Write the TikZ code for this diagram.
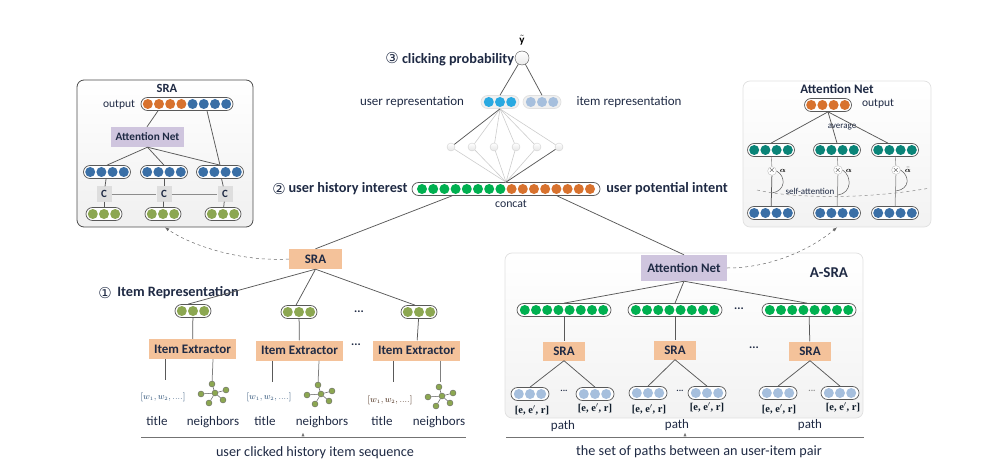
\documentclass[tikz,border=0pt]{standalone}
\usepackage{amsmath}
\usepackage{fontspec}
\usetikzlibrary{shapes.geometric}
\setmainfont{Carlito}
\newfontfamily\circfont{DejaVu Sans}
\newfontfamily\seriffont{Liberation Serif}
\definecolor{dotO}{HTML}{D8722E}
\definecolor{dotB}{HTML}{3A6FA6}
\definecolor{dotG}{HTML}{00B050}
\definecolor{dotL}{HTML}{8CA751}
\definecolor{dotT}{HTML}{0A8478}
\definecolor{dotS}{HTML}{29A9E1}
\definecolor{dotP}{HTML}{A6BFDD}
\definecolor{boxO}{HTML}{F4C29A}
\definecolor{boxV}{HTML}{CFC5DE}
\definecolor{labT}{HTML}{1F2A44}
\tikzset{
  pill/.style={draw=black!65, fill=white, rounded corners=6.5pt, minimum height=13pt, inner sep=0pt, line width=0.7pt},
  palepill/.style={pill, draw=black!12, fill=black!6},
  dotcell/.style={circle, inner sep=0pt, minimum size=10pt},
  orangebox/.style={fill=boxO, font=\bfseries\fontsize{13}{15}\selectfont, text=labT, inner sep=0pt},
  violetbox/.style={fill=boxV, font=\bfseries\fontsize{13}{15}\selectfont, text=labT, inner sep=0pt},
  lab/.style={font=\fontsize{13}{15}\selectfont, text=labT, inner sep=0pt},
  caplab/.style={font=\fontsize{14.2}{16}\selectfont, text=labT, inner sep=0pt},
  boldlab/.style={font=\bfseries\fontsize{14.3}{16}\selectfont, text=labT, inner sep=0pt},
  numlab/.style={font=\circfont\fontsize{15}{16}\selectfont, text=labT, inner sep=0pt},
  edgeline/.style={draw=black!65, line width=0.75pt},
  thinline/.style={draw=black!20, line width=0.6pt},
  baseline rule/.style={draw=black!55, line width=1pt},
  seqtip/.style={draw=none, fill=black!55, isosceles triangle, shape border rotate=90, minimum size=2pt, inner sep=0.8pt},
  hubdot/.style={circle, draw=black!60, fill=dotL, inner sep=0pt, minimum size=6pt, line width=0.4pt},
  hidden/.style={circle, draw=black!18, top color=white, bottom color=black!10, inner sep=0pt, minimum size=8pt},
  timescirc/.style={circle, draw=black!25, fill=white, inner sep=0pt, minimum size=8pt, font=\fontsize{8}{8}\selectfont},
  cbox/.style={fill=black!13, minimum width=15pt, minimum height=15pt, inner sep=0pt, font=\bfseries\fontsize{11}{12}\selectfont, text=labT},
  pathlab/.style={font=\seriffont\bfseries\fontsize{10.5}{12}\selectfont, text=black!75!dotB, inner sep=0pt},
  titlelab/.style={font=\fontsize{9.5}{10}\selectfont, text=dotB!70!black, inner sep=0pt},
  dots/.style={font=\bfseries\fontsize{12}{12}\selectfont, text=labT, inner sep=0pt},
  container/.style={rounded corners=7pt, top color=white, bottom color=black!5, draw=black!12, line width=0.7pt}
}
% row of dots inside a pill: name, x, y, width, count, colours
\newcommand{\dotrow}[7][pill]{
  \node[#1, minimum width=#5pt] (#2) at (#3,#4) {};
  \foreach \col [count=\k] in {#7}
    \node[dotcell, fill=\col] (#2d\k) at ({#3+(\k-(#6+1)/2)*11.2},#4) {};
}
% small graph of neighbours: name, x, y
\newcommand{\neighbors}[3]{
  \node[hubdot] (#1) at (#2,#3) {};
  \foreach \dx/\dy [count=\k] in {-3/-9, 11/-3, 8/7, -6/10, -14/1} {
    \node[hubdot] (#1l\k) at (#2+\dx,#3+\dy) {};
    \draw[edgeline, line width=0.5pt] (#1) -- (#1l\k);
  }
}
\begin{document}
\begin{tikzpicture}[x=1pt, y=-1pt]
\useasboundingbox (0,0) rectangle (1003,473);

% SRA detail panel
\node[rounded corners=7pt, top color=white, bottom color=black!6, draw=black!70, line width=0.8pt, minimum width=176pt, minimum height=147pt] (sraPanel) at (165,153.5) {};
\node[boldlab, font=\bfseries\fontsize{12.5}{15}\selectfont] (sraTitle) at (167,88) {SRA};
\node[lab, font=\fontsize{11.5}{14}\selectfont] (sraOutLab) at (119,105) {output};
\dotrow{sraOut}{187}{104}{92}{8}{dotO,dotO,dotO,dotO,dotB,dotB,dotB,dotB}
\node[violetbox, font=\bfseries\fontsize{11.3}{14}\selectfont, minimum width=73pt, minimum height=20pt] (sraAtt) at (147.5,137) {Attention Net};
\dotrow{sraHa}{107}{172}{47}{4}{dotB,dotB,dotB,dotB}
\dotrow{sraHb}{164}{172}{47}{4}{dotB,dotB,dotB,dotB}
\dotrow{sraHc}{220}{172}{47}{4}{dotB,dotB,dotB,dotB}
\node[cbox] (sraCa) at (104,194) {C};
\node[cbox] (sraCb) at (164,194) {C};
\node[cbox] (sraCc) at (225,194) {C};
\dotrow{sraIa}{104}{214}{36}{3}{dotL,dotL,dotL}
\dotrow{sraIb}{163}{214}{36}{3}{dotL,dotL,dotL}
\dotrow{sraIc}{223}{214}{36}{3}{dotL,dotL,dotL}
\draw[edgeline] ([xshift=-29pt]sraOut.south) -- ([xshift=-0.5pt]sraAtt.north);
\draw[edgeline] ([xshift=20pt]sraOut.south) -- ([xshift=0pt]sraHc.north);
\draw[edgeline] (sraAtt.south) -- ([xshift=0pt]sraHa.north);
\draw[edgeline] (sraAtt.south) -- (sraHb.north);
\draw[edgeline] (sraAtt.south) -- ([xshift=0pt]sraHc.north);
\foreach \h/\c/\i in {sraHa/sraCa/sraIa, sraHb/sraCb/sraIb, sraHc/sraCc/sraIc} {
  \draw[edgeline] (\h) -- (\c);
  \draw[edgeline] (\c) -- (\i);
}
\draw[edgeline, draw=black!45] (sraCa) -- (sraCb);
\draw[edgeline, draw=black!45] (sraCb) -- (sraCc);

% Attention Net detail panel
\node[container, minimum width=188pt, minimum height=146pt] (attPanel) at (837,154) {};
\node[boldlab, font=\bfseries\fontsize{13}{15}\selectfont] (attTitle) at (837,89) {Attention Net};
\dotrow{attOut}{828}{105}{47}{4}{dotO,dotO,dotO,dotO}
\node[lab, font=\fontsize{11.5}{14}\selectfont] (attOutLab) at (878,104) {output};
\node[lab, font=\fontsize{9}{10}\selectfont] (attAvg) at (842,127) {average};
\dotrow{attTa}{771}{150}{47}{4}{dotT,dotT,dotT,dotT}
\dotrow{attTb}{837}{150}{47}{4}{dotT,dotT,dotT,dotT}
\dotrow{attTc}{895}{150}{47}{4}{dotT,dotT,dotT,dotT}
\dotrow{attBa}{771}{213}{47}{4}{dotB,dotB,dotB,dotB}
\dotrow{attBb}{837}{213}{47}{4}{dotB,dotB,dotB,dotB}
\dotrow{attBc}{895}{213}{47}{4}{dotB,dotB,dotB,dotB}
\node[timescirc] (attXa) at (772,171) {$\times$};
\node[timescirc] (attXb) at (838,170) {$\times$};
\node[timescirc] (attXc) at (896,170) {$\times$};
\node[inner sep=0pt, font=\fontsize{7}{8}\selectfont] (attAa) at (783,171) {$\boldsymbol{\alpha}$};
\node[inner sep=0pt, font=\fontsize{7}{8}\selectfont] (attAb) at (849,171) {$\boldsymbol{\alpha}$};
\node[inner sep=0pt, font=\fontsize{7}{8}\selectfont] (attAc) at (908,170) {$\bar{\boldsymbol{\alpha}}$};
\draw[edgeline] ([xshift=0pt]attOut.south) -- (attTa.north);
\draw[edgeline] (attOut.south) -- (attTb.north);
\draw[edgeline] (attOut.south) -- ([xshift=-7pt]attTc.north);
\draw[thinline, draw=black!40] (attTa) -- (attXa);
\draw[thinline, draw=black!40] (attTb) -- (attXb);
\draw[thinline, draw=black!40] (attTc) -- (attXc);
\draw[edgeline] (attXa) -- (attBa);
\draw[edgeline, draw=black!40] (attXb) -- (attBb);
\draw[edgeline, draw=black!40] (attXc) -- (attBc);
% self-attention arcs and the dashed divider
\coordinate (arcA) at (772,193);
\coordinate (arcB) at (838,195);
\coordinate (arcC) at (896,191);
\draw[edgeline, line width=0.5pt] (attXa.east) .. controls (786,176) and (786,191) .. (arcA);
\draw[edgeline, line width=0.5pt] (attXb.east) .. controls (852,176) and (852,193) .. (arcB);
\draw[edgeline, line width=0.5pt] (attXc.east) .. controls (910,176) and (910,189) .. (arcC);
\coordinate (divL) at (757,190);
\coordinate (divR) at (930,188);
\draw[dashed, draw=black!45, line width=0.5pt] (divL) .. controls (795,199) and (870,199) .. (divR);
\node[lab, font=\fontsize{9}{10}\selectfont] (attSelf) at (810,191) {self-attention};

% Clicking probability
\node[font=\fontsize{11}{12}\selectfont, inner sep=0pt] (yhat) at (522,40) {$\tilde{\mathbf{y}}$};
\node[circle, draw=black!70, top color=white, bottom color=black!8, minimum size=14pt, inner sep=0pt] (prob) at (522,58) {};
\node[boldlab] (probLab) at (458,60) {clicking probability};
\node[numlab] (probNum) at (392,58) {③};
\node[lab] (userRepLab) at (412,102) {user representation};
\node[lab] (itemRepLab) at (629,102) {item representation};
\dotrow[palepill]{userRep}{500}{102}{38}{3}{dotS,dotS,dotS}
\dotrow[palepill]{itemRep}{542}{102}{38}{3}{dotP,dotP,dotP}
\draw[edgeline] (prob) -- (userRep.north);
\draw[edgeline] (prob) -- ([xshift=0pt]itemRep.north);

% Hidden layer between the interests and user representation
\foreach \hx [count=\k] in {451,472,494,516,537,559} {
  \node[hidden] (hid\k) at (\hx,147) {};
}
\dotrow{concat}{506}{189}{188}{16}{dotG,dotG,dotG,dotG,dotG,dotG,dotG,dotG,dotO,dotO,dotO,dotO,dotO,dotO,dotO,dotO}
\foreach \k in {2,3,4,5,6} {
  \draw[thinline] (userRep.south) -- (hid\k);
}
\foreach \k in {1,2,3,4,5} {
  \draw[thinline] (hid\k) -- ([yshift=0pt]concat.north);
}
\draw[edgeline] (userRep.south) -- (hid1);
\draw[edgeline] (hid6) -- (concat.north);
\node[lab, font=\fontsize{11.8}{13}\selectfont] (concatLab) at (511,204) {concat};
\node[boldlab] (histLab) at (348,189) {user history interest};
\node[numlab] (histNum) at (279,189) {②};
\node[boldlab] (potLab) at (667,189) {user potential intent};

% History side
\node[orangebox, minimum width=53pt, minimum height=20pt] (sraMain) at (315.5,259) {SRA};
\draw[edgeline] ([xshift=-54pt]concat.south) -- (sraMain.north);
\node[numlab] (itemNum) at (105,293) {①};
\node[boldlab] (itemLab) at (178,293) {Item Representation};
\dotrow{itemA}{193}{311}{36}{3}{dotL,dotL,dotL}
\dotrow{itemB}{299}{312}{36}{3}{dotL,dotL,dotL}
\dotrow{itemC}{419}{312}{36}{3}{dotL,dotL,dotL}
\draw[edgeline] (sraMain.south) -- ([xshift=-5pt]itemA.north);
\draw[edgeline] (sraMain.south) -- ([xshift=-3pt]itemB.north);
\draw[edgeline] (sraMain.south) -- ([xshift=-4pt]itemC.north);
\node[dots] (itemDotsA) at (359,312) {...};
\node[dots] (itemDotsB) at (356,345) {...};
\node[orangebox, minimum width=87pt, minimum height=20pt] (extA) at (192.5,349) {Item Extractor};
\node[orangebox, minimum width=87pt, minimum height=20pt] (extB) at (299.5,350.5) {Item Extractor};
\node[orangebox, minimum width=87pt, minimum height=20pt] (extC) at (416.5,350.5) {Item Extractor};
\draw[edgeline] (itemA) -- (extA);
\draw[edgeline] (itemB) -- (extB);
\draw[edgeline] (itemC) -- (extC);
\node[titlelab] (wordsA) at (163,397) {$[w_{\scriptscriptstyle 1},w_{\scriptscriptstyle 2},....]$};
\node[titlelab] (wordsB) at (269,397) {$[w_{\scriptscriptstyle 1},w_{\scriptscriptstyle 2},....]$};
\node[titlelab, text=black!70!dotO] (wordsC) at (390,400) {$[w_{\scriptscriptstyle 1},w_{\scriptscriptstyle 2},....]$};
\neighbors{graphA}{215}{393}
\neighbors{graphB}{321}{394}
\neighbors{graphC}{442}{396}
\draw[edgeline] ([xshift=-27.5pt]extA.south) -- ++(0,21);
\draw[edgeline] ([xshift=-27.5pt]extB.south) -- ++(0,21);
\draw[edgeline] ([xshift=-23.5pt]extC.south) -- ++(0,21);
\draw[edgeline, draw=black!50] ([xshift=20.5pt]extA.south) -- (graphAl1);
\draw[edgeline, draw=black!50] ([xshift=19.5pt]extB.south) -- (graphBl1);
\draw[edgeline, draw=black!50] ([xshift=23.5pt]extC.south) -- ++(0,21);
\foreach \nm/\tx/\nx [count=\k] in {A/157/213, B/265/322, C/382/439} {
  \node[lab] (titleLab\nm) at (\tx,421) {title};
  \node[lab] (nbrLab\nm) at (\nx,422) {neighbors};
}
\coordinate (seqL) at (141,437);
\coordinate (seqR) at (466,437);
\draw[baseline rule] (seqL) -- (seqR);
\node[seqtip] (seqTip) at (303,435.5) {};
\node[caplab] (seqLab) at (315,453) {user clicked history item sequence};

% A-SRA block
\node[container, minimum width=358pt, minimum height=165pt] (asra) at (684,335.5) {};
\node[violetbox, minimum width=86pt, minimum height=26pt] (attMain) at (684,268) {Attention Net};
\node[font=\bfseries\fontsize{15}{17}\selectfont, text=labT, inner sep=0pt] (asraLab) at (829,273) {A-SRA};
\draw[edgeline] ([xshift=51pt]concat.south) -- ([xshift=0pt]attMain.north);
\dotrow{pathA}{564}{310}{94}{8}{dotG,dotG,dotG,dotG,dotG,dotG,dotG,dotG}
\dotrow{pathB}{675}{310}{94}{8}{dotG,dotG,dotG,dotG,dotG,dotG,dotG,dotG}
\dotrow{pathC}{809}{310}{94}{8}{dotG,dotG,dotG,dotG,dotG,dotG,dotG,dotG}
\draw[edgeline] (attMain.south) -- (pathA.north);
\draw[edgeline] (attMain.south) -- (pathB.north);
\draw[edgeline] (attMain.south) -- ([xshift=-2pt]pathC.north);
\node[dots] (pathDotsA) at (739,309) {...};
\node[dots] (pathDotsB) at (754,348) {...};
\node[orangebox, minimum width=42pt, minimum height=19pt] (sraA) at (564,351) {SRA};
\node[orangebox, minimum width=42pt, minimum height=19pt] (sraB) at (675,350) {SRA};
\node[orangebox, minimum width=42pt, minimum height=19pt] (sraC) at (810,351) {SRA};
\draw[edgeline] (pathA) -- (sraA);
\draw[edgeline] (pathB) -- (sraB);
\draw[edgeline] (pathC) -- (sraC);
\foreach \nm/\px/\py/\lx/\ly [count=\k] in {a/530/394/532/410, b/595/394/595/408, c/648/393/649/409, d/707/393/707/407, e/778/393/779/409, f/840/393/843/407} {
  \dotrow{ent\nm}{\px}{\py}{38}{3}{dotP,dotP,dotP}
  \node[pathlab] (entLab\nm) at (\lx,\ly) {[e, e$'$, r]};
}
\draw[edgeline] (sraA.south) -- (enta.north);
\draw[edgeline] (sraA.south) -- (entb.north);
\draw[edgeline] (sraB.south) -- (entc.north);
\draw[edgeline] (sraB.south) -- (entd.north);
\draw[edgeline] (sraC.south) -- (ente.north);
\draw[edgeline] (sraC.south) -- (entf.north);
\node[dots, font=\bfseries\fontsize{9}{9}\selectfont] (entDotsA) at (564,391) {...};
\node[dots, font=\bfseries\fontsize{9}{9}\selectfont] (entDotsB) at (680,391) {...};
\node[dots, font=\bfseries\fontsize{9}{9}\selectfont, text=black!45] (entDotsC) at (812,391) {...};
\node[lab] (pathLabA) at (563,426) {path};
\node[lab] (pathLabB) at (677,425) {path};
\node[lab] (pathLabC) at (810,425) {path};
\coordinate (setL) at (506,437);
\coordinate (setR) at (864,437);
\draw[baseline rule] (setL) -- (setR);
\node[seqtip] (setTip) at (685,435.5) {};
\node[caplab] (setLab) at (699,452) {the set of paths between an user-item pair};

% Dashed links out to the detail panels
\draw[->, >=latex, dashed, draw=black!60, line width=0.5pt] (sraMain.west) .. controls (240,262) and (190,245) .. (sraPanel.south);
\draw[->, >=latex, dashed, draw=black!60, line width=0.5pt] (attMain.east) .. controls (770,268) and (810,250) .. (attPanel.south);
\end{tikzpicture}
\end{document}
